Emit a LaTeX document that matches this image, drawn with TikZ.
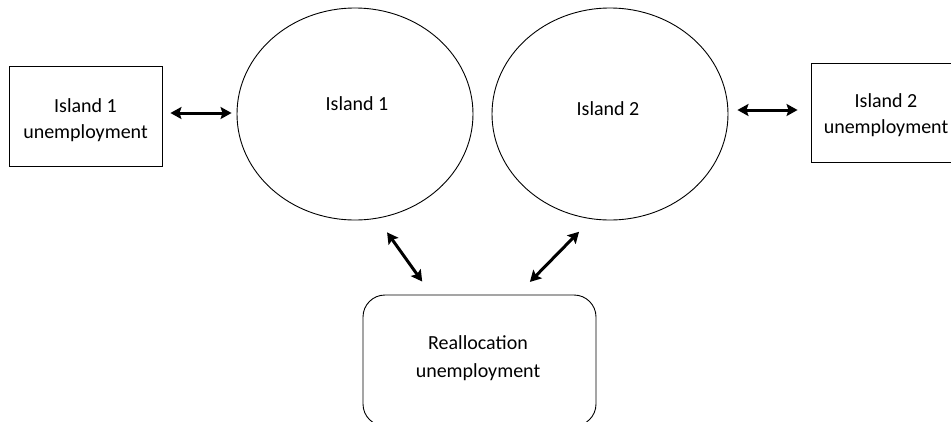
\documentclass[tikz,border=0pt]{standalone}
\usepackage{fontspec}
\setmainfont{Carlito}
\usetikzlibrary{shapes.geometric,arrows.meta,calc}
\begin{document}
\begin{tikzpicture}[x=1pt,y=-1pt,
  shape line/.style={draw=black,line width=0.9pt},
  island/.style={shape line,ellipse,minimum width=236pt,minimum height=212pt,inner sep=0pt},
  ubox/.style={shape line,rectangle,inner sep=0pt},
  lab/.style={font=\fontsize{20}{26}\selectfont,align=center,inner sep=0pt},
  link/.style={line width=3pt,{Stealth[length=11pt,width=12pt,inset=2pt]}-{Stealth[length=11pt,width=12pt,inset=2pt]}}
]
\useasboundingbox (0,0) rectangle (951,421);
\node[island,label={[lab,yshift=10pt,xshift=2pt]center:Island 1}] (e1) at (355,114) {};
\node[island,label={[lab,yshift=5pt,xshift=-2pt]center:Island 2}] (e2) at (610,114) {};
\node[ubox,minimum width=153pt,minimum height=100pt,label={[lab,yshift=-4pt]center:Island 1\\unemployment}] (lb) at (85.5,116) {};
\node[ubox,minimum width=150pt,minimum height=99pt,label={[lab,yshift=-2.5pt]center:Island 2\\unemployment}] (rb) at (886,112.5) {};
\node[ubox,rounded corners=22pt,minimum width=233pt,minimum height=131pt,label={[lab,font=\fontsize{20}{28}\selectfont,yshift=2.5pt,xshift=-1.5pt]center:Reallocation\\unemployment}] (r) at (479.5,360.5) {};
\draw[link,shorten <=8pt,shorten >=5pt] ([yshift=3pt]lb.east) -- ([yshift=1pt]e1.west);
\draw[link,shorten <=9pt,shorten >=13pt] ([yshift=4pt]e2.east) -- ([yshift=2.5pt]rb.west);
\draw[link,shorten <=17pt,shorten >=16pt] (e1.-78.6) -- ([xshift=-48pt]r.north);
\draw[link,shorten <=17.7pt,shorten >=17.7pt] (e2.-100.9) -- ([xshift=38pt]r.north);
\end{tikzpicture}
\end{document}
